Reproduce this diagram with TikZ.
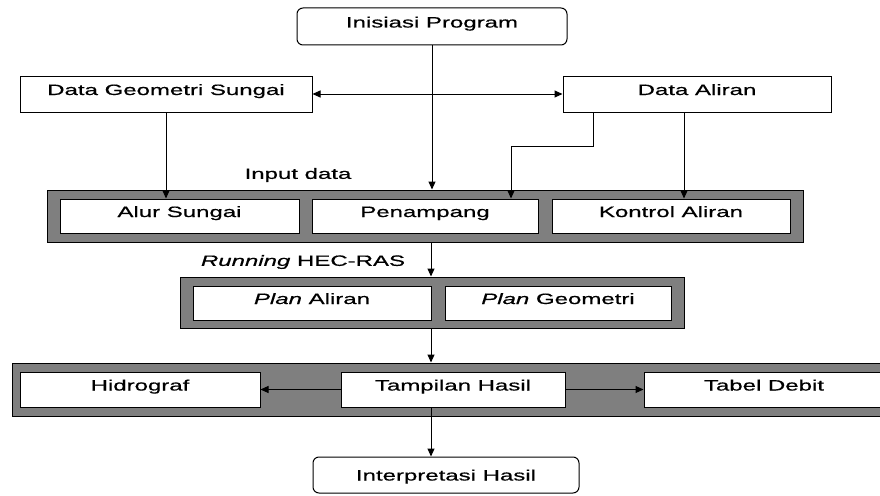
\documentclass[tikz,border=0pt]{standalone}
\usepackage{fontspec}
\setmainfont{Liberation Sans}[FakeStretch=1.6,FakeBold=0.6]
\usetikzlibrary{arrows.meta}
\definecolor{Panel}{HTML}{7F7F7F}

\begin{document}
\begin{tikzpicture}[x=1pt,y=-1pt,
    box/.style={draw,fill=white,line width=1pt,minimum height=34pt,
      text height=11pt,text depth=9pt,inner ysep=7pt,
      font=\fontsize{15}{18}\selectfont},
    term/.style={box,rounded corners=6pt},
    panel/.style={draw,fill=Panel,line width=1pt,inner sep=0pt},
    lbl/.style={font=\fontsize{15}{18}\selectfont},
    arr/.style={-{Triangle[length=8pt,width=7pt]},line width=1pt}
  ]
    \useasboundingbox (0,0) rectangle (880,495);
    \clip (0,0) rectangle (880,495);
    \coordinate (axis) at (431,0);

    % sources
    \node[term,minimum width=270pt,minimum height=37pt] (init) at (432,26.5) {Inisiasi Program};
    \node[box,minimum width=292pt,minimum height=36pt] (geo) at (166,94) {Data Geometri Sungai};
    \node[box,minimum width=268pt,minimum height=36pt] (aliran) at (697,94) {Data Aliran};

    % input data
    \node[lbl] (inlbl) at (298,175) {Input data};
    \node[panel,minimum width=756pt,minimum height=52pt] (input) at (425,216) {};
    \node[box,minimum width=239pt] (alur) at (179.5,216) {Alur Sungai};
    \node[box,minimum width=226pt] (penampang) at (425,216) {Penampang};
    \node[box,minimum width=238pt] (kontrol) at (671,216) {Kontrol Aliran};

    % running
    \node[lbl] (runlbl) at (303,262) {\textit{Running} HEC-RAS};
    \node[panel,minimum width=504pt,minimum height=51pt] (run) at (432,302.5) {};
    \node[box,minimum width=238pt] (planA) at (312,303) {\textit{Plan} Aliran};
    \node[box,minimum width=226pt] (planG) at (558,303) {\textit{Plan} Geometri};

    % hasil
    \node[panel,minimum width=880pt,minimum height=53pt] (hasil) at (452,389.5) {};
    \node[box,minimum width=240pt,minimum height=35pt] (hidro) at (140,389.5) {Hidrograf};
    \node[box,minimum width=224pt,minimum height=35pt] (tampil) at (453,389.5) {Tampilan Hasil};
    \node[box,minimum width=240pt,minimum height=35pt] (tabel) at (764,389.5) {Tabel Debit};
    \node[term,minimum width=266pt,minimum height=36pt,text depth=0pt] (interp) at (446,475) {Interpretasi Hasil};

    % connectors
    \draw[{Triangle[length=8pt,width=7pt]}-{Triangle[length=8pt,width=7pt]},line width=1pt]
      (geo.east) -- (aliran.west);
    \draw[arr] (init.south) -- (init.south |- input.north);
    \draw[arr] (geo.south) -- (geo.south |- alur.north);
    \draw[arr] ([xshift=-13pt]aliran.south) -- ([xshift=-13pt]aliran.south |- kontrol.north);
    \draw[arr] ([xshift=-104pt]aliran.south) -- ++(0,34) -| ([xshift=86pt]penampang.north);
    \draw[arr] (input.south -| axis) -- (run.north -| axis);
    \draw[arr] (run.south -| axis) -- (hasil.north -| axis);
    \draw[arr] (tampil.west) -- (hidro.east);
    \draw[arr] (tampil.east) -- (tabel.west);
    \draw[arr] (tampil.south -| axis) -- (interp.north -| axis);
  \end{tikzpicture}
\end{document}
